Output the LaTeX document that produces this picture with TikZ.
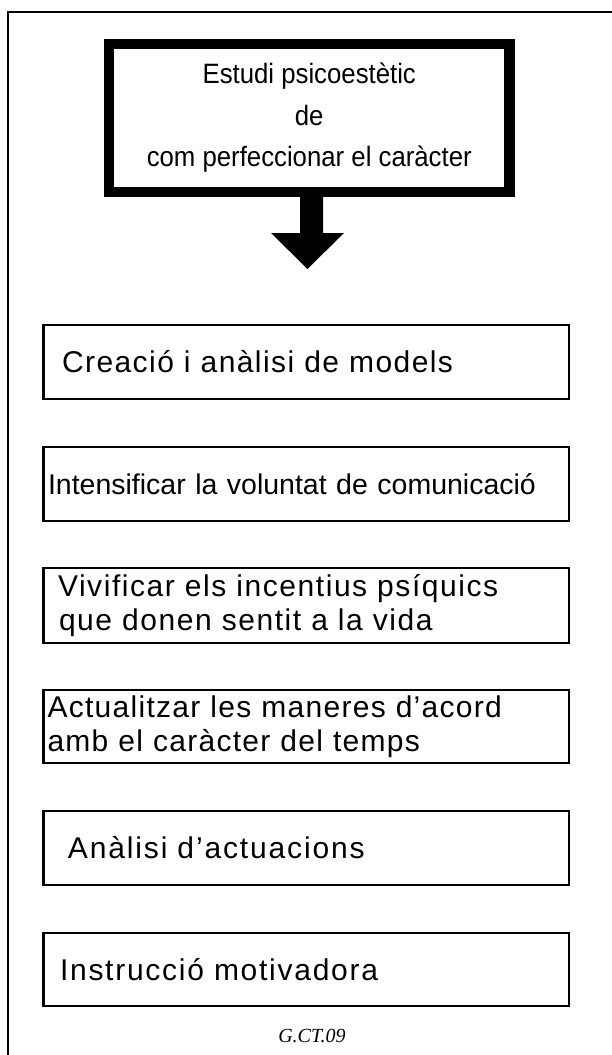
\documentclass[tikz,border=0pt]{standalone}
\usepackage{fontspec}
\setmainfont{Liberation Sans}
\newfontfamily\topfont{Liberation Sans}[FakeStretch=0.92]
\newfontfamily\codefont{Liberation Serif}
\newcommand\lsp[1]{\addfontfeatures{LetterSpace=#1}}
\tikzset{
  frameline/.style={draw=black, line width=1.6pt},
  topbox/.style={draw, line width=10.5pt, minimum width=400.5pt, minimum height=148pt,
    inner sep=0pt, align=center, font=\topfont\fontsize{28}{41.5}\selectfont},
  stepbox/.style={draw, line width=2.5pt, minimum width=525.5pt, minimum height=74pt,
    text width=509.5pt, inner xsep=8pt, inner ysep=0pt, align=left,
    font=\fontsize{30}{34}\selectfont},
  codelabel/.style={font=\codefont\itshape\fontsize{20}{24}\selectfont, inner sep=0pt}
}
\begin{document}
\begin{tikzpicture}[x=1pt,y=-1pt]
\useasboundingbox (0,0) rectangle (611,1055);
\fill[white] (0,0) rectangle (611,1055);
\draw[frameline] (8,1060) -- (8,12) -- (620,12);

\node[topbox] (title) at (309.25,118) {Estudi psicoestètic\\de\\com perfeccionar el caràcter};

\coordinate (tip) at (307.5,269);
\fill (300,192) -- (300,233) -- (271,233) -- (tip) -- (344,233) -- (323,233) -- (323,192) -- cycle;

\node[stepbox] (b1) at (306.25,362) {\lsp{4.8}\hspace*{10.5pt}Creació i anàlisi de models};
\node[stepbox, font=\fontsize{28.5}{34}\selectfont] (b2) at (306.25,484) {\hspace*{-3.5pt}Intensificar la voluntat de comunicació};
\node[stepbox, minimum height=75pt] (b3) at (306.25,605.5) {\lsp{5.2}\hspace*{6.5pt}Vivificar els incentius psíquics\\\hspace*{7.5pt}que donen sentit a la vida};
\node[stepbox, minimum height=73pt] (b4) at (306.25,726.5) {\lsp{4.3}\hspace*{-4pt}Actualitzar les maneres d’acord\\\hspace*{-4pt}amb el caràcter del temps};
\node[stepbox] (b5) at (306.25,848) {\lsp{6.2}\hspace*{16.5pt}Anàlisi d’actuacions};
\node[stepbox, minimum height=73pt] (b6) at (306.25,969.5) {\lsp{5.8}\hspace*{8.5pt}Instrucció motivadora};

\node[codelabel] (code) at (312,1036) {G.CT.09};
\end{tikzpicture}
\end{document}
